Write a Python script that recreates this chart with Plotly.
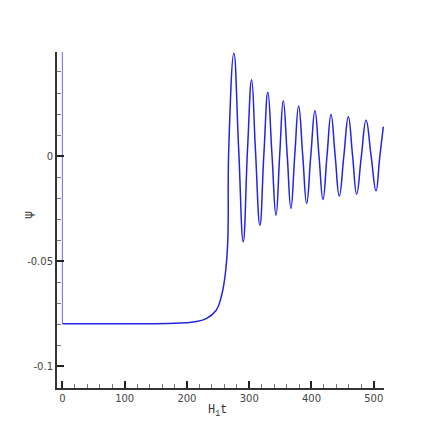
import plotly.graph_objects as go

# initial jump at t = 0
jump_t = [0, 0]
jump_psi = [0.0495, -0.0797]

# psi(t) (flat part, rise, then decaying oscillation)
t = [0, 100, 180, 210, 231, 247, 255, 261, 265.3, 267.2, 275.4,
     283, 290.4, 297.4, 303.9, 310, 317.2,
     323.6, 330, 336.5, 343,
     349, 354.7, 361, 367, 373.2, 379.4, 385.9, 392.3, 399, 405.6,
     412, 418.5, 425, 431.4, 438, 444.7, 452, 459.2, 466, 472.6,
     480, 487.7, 495.7, 503.7, 509.5, 515.4]
psi = [-0.0797, -0.0797, -0.0795, -0.0789, -0.0773, -0.0733, -0.067, -0.0575,
       -0.0424, 0.0038, 0.0489,
       0.0038, -0.0408, 0.0038, 0.0363, 0.0030, -0.0329,
       0.0011, 0.0303, 0.0011, -0.0281,
       0.0007, 0.0263, 0.0007, -0.0249, 0.0005, 0.0238, 0.0006, -0.0225, 0.0004, 0.0216,
       0.0005, -0.0206, 0.0003, 0.0198, 0.0004, -0.019, 0.0, 0.0187, 0.0003, -0.0181,
       -0.0005, 0.0171, 0.0003, -0.0165, -0.001, 0.014]

x_ticks = [0, 100, 200, 300, 400, 500]
y_ticks = [0, -0.05, -0.1]
y_labels = ["0", "-0.05", "-0.1"]

fig = go.Figure()
fig.add_trace(go.Scatter(x=jump_t, y=jump_psi, mode="lines",
                         line=dict(color="#8080f0", width=1.2),
                         showlegend=False, hoverinfo="skip"))
fig.add_trace(go.Scatter(x=t, y=psi, mode="lines",
                         line=dict(color="#2424e6", width=1.5, shape="spline", smoothing=1.3),
                         showlegend=False))

tick_font = dict(family="DejaVu Sans", size=10, color="#444444")

fig.update_layout(
    width=436, height=436,
    # page body adds 8px offset, so margins are shifted to compensate
    margin=dict(l=49, r=60, t=44, b=56),
    paper_bgcolor="white", plot_bgcolor="white",
    xaxis=dict(
        range=[-8.7, 516.5], showgrid=False, zeroline=False, automargin=False,
        showline=True, linecolor="#333333", linewidth=2,
        tickvals=x_ticks, ticks="inside", ticklen=7, tickwidth=2, tickcolor="#222222",
        minor=dict(dtick=20, tick0=0, ticks="inside", ticklen=4, tickwidth=1, tickcolor="#777777"),
        tickfont=tick_font,
    ),
    yaxis=dict(
        range=[-0.1103, 0.0495], showgrid=False, zeroline=False, automargin=False,
        showline=True, linecolor="#333333", linewidth=2,
        tickvals=y_ticks, ticktext=y_labels, ticks="inside", ticklen=7, tickwidth=2, tickcolor="#222222",
        minor=dict(dtick=0.01, tick0=0, ticks="inside", ticklen=4, tickwidth=1, tickcolor="#777777"),
        tickfont=tick_font,
    ),
    annotations=[
        dict(text="H<sub>1</sub>t", xref="paper", yref="paper", x=0.492, y=0,
             yshift=-23, showarrow=False, xanchor="center", yanchor="middle",
             font=dict(family="Liberation Mono", size=12, color="#333333")),
        dict(text="ψ", xref="paper", yref="paper", x=0, y=0.515, xshift=-29,
             textangle=-90, showarrow=False, xanchor="center", yanchor="middle",
             font=dict(family="DejaVu Sans", size=12, color="#333333")),
    ],
)

fig.write_html("out.html")
